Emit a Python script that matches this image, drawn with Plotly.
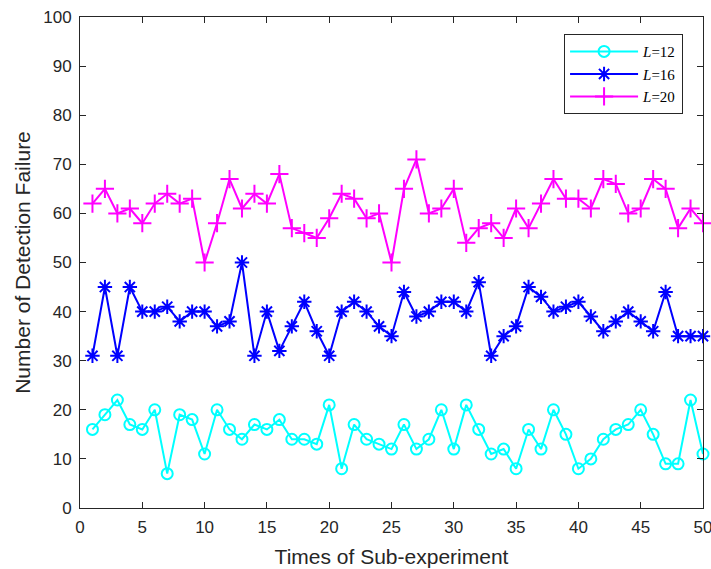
import plotly.graph_objects as go

x = list(range(1, 51))
L12 = [16,19,22,17,16,20,7,19,18,11,20,16,14,17,16,18,14,14,13,21,8,17,14,13,12,
       17,12,14,20,12,21,16,11,12,8,16,12,20,15,8,10,14,16,17,20,15,9,9,22,11]
L16 = [31,45,31,45,40,40,41,38,40,40,37,38,50,31,40,32,37,42,36,31,40,42,40,37,35,
       44,39,40,42,42,40,46,31,35,37,45,43,40,41,42,39,36,38,40,38,36,44,35,35,35]
L20 = [62,65,60,61,58,62,64,62,63,50,58,67,61,64,62,68,57,56,55,59,64,63,59,60,50,
       65,71,60,61,65,54,57,58,55,61,57,62,67,63,63,61,67,66,60,61,67,65,57,61,58]
names = ["<i>L</i>=12", "<i>L</i>=16", "<i>L</i>=20"]
x_ticks = list(range(0, 51, 5))
y_ticks = list(range(0, 101, 10))

fig = go.Figure()
fig.add_trace(go.Scatter(x=x, y=L12, name=names[0], mode="lines+markers", cliponaxis=False,
    line=dict(color="#00FFFF", width=2),
    marker=dict(symbol="circle-open", size=11, color="#00FFFF", line=dict(width=2))))
fig.add_trace(go.Scatter(x=x, y=L16, name=names[1], mode="lines+markers", cliponaxis=False,
    line=dict(color="#0000FF", width=2),
    marker=dict(symbol="asterisk-open", size=12, color="#0000FF", line=dict(width=2, color="#0000FF"))))
fig.add_trace(go.Scatter(x=x, y=L20, name=names[2], mode="lines+markers", cliponaxis=False,
    line=dict(color="#FF00FF", width=2),
    marker=dict(symbol="cross-thin-open", size=13, color="#FF00FF", line=dict(width=2, color="#FF00FF"))))

font_fam = "Liberation Sans, Arial"
axis_common = dict(showline=True, linecolor="#262626", linewidth=1, mirror="ticks",
                   ticks="inside", ticklen=6, tickcolor="#262626", showgrid=False,
                   zeroline=False, automargin=False, ticklabeloverflow="allow",
                   tickfont=dict(family=font_fam, size=17, color="#262626"))
fig.update_xaxes(range=[0, 50], tickvals=x_ticks, ticklabelstandoff=4,
                 title=dict(text="Times of Sub-experiment", font=dict(family=font_fam, size=21, color="#262626"), standoff=12),
                 **axis_common)
fig.update_yaxes(range=[0, 100], tickvals=y_ticks, ticklabelstandoff=4,
                 title=dict(text="Number of Detection Failure", font=dict(family=font_fam, size=21, color="#262626"), standoff=6),
                 **axis_common)
fig.update_layout(width=711, height=569, plot_bgcolor="white", paper_bgcolor="white",
                  margin=dict(l=80, r=8, t=17, b=61),
                  legend=dict(x=0.968, y=0.965, xanchor="right", yanchor="top",
                              bordercolor="#262626", borderwidth=1, bgcolor="white",
                              font=dict(family="Liberation Serif, Times New Roman", size=15, color="black"),
                              tracegroupgap=0, itemwidth=68))
fig.write_html("out.html", config={"displayModeBar": False},
               post_script="document.body.style.margin='0';document.body.style.overflow='hidden';")
